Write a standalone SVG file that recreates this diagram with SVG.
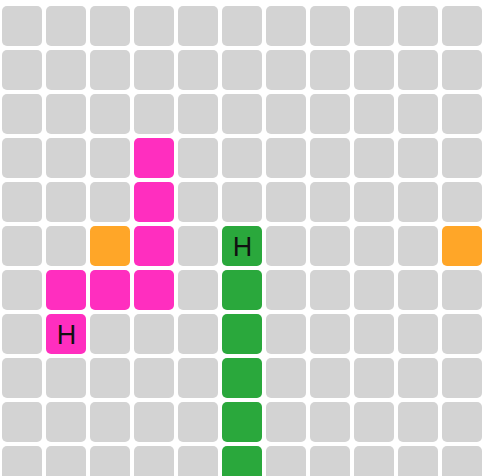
<svg xmlns="http://www.w3.org/2000/svg" width="482" height="476" viewBox="0 0 482 476">
<style>
.c{fill:#d3d3d3}
.p{fill:#ff2ebf}
.o{fill:#ffa628}
.g{fill:#2aa83c}
.t{font-family:"Liberation Sans",Arial,sans-serif;font-size:27px;fill:#111;text-anchor:middle;dominant-baseline:central}
</style>
<defs>
<rect id="cell" width="40" height="40" rx="5" ry="5"/>
</defs>
<rect width="482" height="476" fill="#fff"/>
<g id="grid">
<g transform="translate(2,6)">
<use href="#cell" class="c" x="0" y="0"/><use href="#cell" class="c" x="44" y="0"/><use href="#cell" class="c" x="88" y="0"/><use href="#cell" class="c" x="132" y="0"/><use href="#cell" class="c" x="176" y="0"/><use href="#cell" class="c" x="220" y="0"/><use href="#cell" class="c" x="264" y="0"/><use href="#cell" class="c" x="308" y="0"/><use href="#cell" class="c" x="352" y="0"/><use href="#cell" class="c" x="396" y="0"/><use href="#cell" class="c" x="440" y="0"/>
<use href="#cell" class="c" x="0" y="44"/><use href="#cell" class="c" x="44" y="44"/><use href="#cell" class="c" x="88" y="44"/><use href="#cell" class="c" x="132" y="44"/><use href="#cell" class="c" x="176" y="44"/><use href="#cell" class="c" x="220" y="44"/><use href="#cell" class="c" x="264" y="44"/><use href="#cell" class="c" x="308" y="44"/><use href="#cell" class="c" x="352" y="44"/><use href="#cell" class="c" x="396" y="44"/><use href="#cell" class="c" x="440" y="44"/>
<use href="#cell" class="c" x="0" y="88"/><use href="#cell" class="c" x="44" y="88"/><use href="#cell" class="c" x="88" y="88"/><use href="#cell" class="c" x="132" y="88"/><use href="#cell" class="c" x="176" y="88"/><use href="#cell" class="c" x="220" y="88"/><use href="#cell" class="c" x="264" y="88"/><use href="#cell" class="c" x="308" y="88"/><use href="#cell" class="c" x="352" y="88"/><use href="#cell" class="c" x="396" y="88"/><use href="#cell" class="c" x="440" y="88"/>
<use href="#cell" class="c" x="0" y="132"/><use href="#cell" class="c" x="44" y="132"/><use href="#cell" class="c" x="88" y="132"/><use href="#cell" class="p" x="132" y="132"/><use href="#cell" class="c" x="176" y="132"/><use href="#cell" class="c" x="220" y="132"/><use href="#cell" class="c" x="264" y="132"/><use href="#cell" class="c" x="308" y="132"/><use href="#cell" class="c" x="352" y="132"/><use href="#cell" class="c" x="396" y="132"/><use href="#cell" class="c" x="440" y="132"/>
<use href="#cell" class="c" x="0" y="176"/><use href="#cell" class="c" x="44" y="176"/><use href="#cell" class="c" x="88" y="176"/><use href="#cell" class="p" x="132" y="176"/><use href="#cell" class="c" x="176" y="176"/><use href="#cell" class="c" x="220" y="176"/><use href="#cell" class="c" x="264" y="176"/><use href="#cell" class="c" x="308" y="176"/><use href="#cell" class="c" x="352" y="176"/><use href="#cell" class="c" x="396" y="176"/><use href="#cell" class="c" x="440" y="176"/>
<use href="#cell" class="c" x="0" y="220"/><use href="#cell" class="c" x="44" y="220"/><use href="#cell" class="o" x="88" y="220"/><use href="#cell" class="p" x="132" y="220"/><use href="#cell" class="c" x="176" y="220"/><use href="#cell" class="g" x="220" y="220"/><use href="#cell" class="c" x="264" y="220"/><use href="#cell" class="c" x="308" y="220"/><use href="#cell" class="c" x="352" y="220"/><use href="#cell" class="c" x="396" y="220"/><use href="#cell" class="o" x="440" y="220"/>
<use href="#cell" class="c" x="0" y="264"/><use href="#cell" class="p" x="44" y="264"/><use href="#cell" class="p" x="88" y="264"/><use href="#cell" class="p" x="132" y="264"/><use href="#cell" class="c" x="176" y="264"/><use href="#cell" class="g" x="220" y="264"/><use href="#cell" class="c" x="264" y="264"/><use href="#cell" class="c" x="308" y="264"/><use href="#cell" class="c" x="352" y="264"/><use href="#cell" class="c" x="396" y="264"/><use href="#cell" class="c" x="440" y="264"/>
<use href="#cell" class="c" x="0" y="308"/><use href="#cell" class="p" x="44" y="308"/><use href="#cell" class="c" x="88" y="308"/><use href="#cell" class="c" x="132" y="308"/><use href="#cell" class="c" x="176" y="308"/><use href="#cell" class="g" x="220" y="308"/><use href="#cell" class="c" x="264" y="308"/><use href="#cell" class="c" x="308" y="308"/><use href="#cell" class="c" x="352" y="308"/><use href="#cell" class="c" x="396" y="308"/><use href="#cell" class="c" x="440" y="308"/>
<use href="#cell" class="c" x="0" y="352"/><use href="#cell" class="c" x="44" y="352"/><use href="#cell" class="c" x="88" y="352"/><use href="#cell" class="c" x="132" y="352"/><use href="#cell" class="c" x="176" y="352"/><use href="#cell" class="g" x="220" y="352"/><use href="#cell" class="c" x="264" y="352"/><use href="#cell" class="c" x="308" y="352"/><use href="#cell" class="c" x="352" y="352"/><use href="#cell" class="c" x="396" y="352"/><use href="#cell" class="c" x="440" y="352"/>
<use href="#cell" class="c" x="0" y="396"/><use href="#cell" class="c" x="44" y="396"/><use href="#cell" class="c" x="88" y="396"/><use href="#cell" class="c" x="132" y="396"/><use href="#cell" class="c" x="176" y="396"/><use href="#cell" class="g" x="220" y="396"/><use href="#cell" class="c" x="264" y="396"/><use href="#cell" class="c" x="308" y="396"/><use href="#cell" class="c" x="352" y="396"/><use href="#cell" class="c" x="396" y="396"/><use href="#cell" class="c" x="440" y="396"/>
<use href="#cell" class="c" x="0" y="440"/><use href="#cell" class="c" x="44" y="440"/><use href="#cell" class="c" x="88" y="440"/><use href="#cell" class="c" x="132" y="440"/><use href="#cell" class="c" x="176" y="440"/><use href="#cell" class="g" x="220" y="440"/><use href="#cell" class="c" x="264" y="440"/><use href="#cell" class="c" x="308" y="440"/><use href="#cell" class="c" x="352" y="440"/><use href="#cell" class="c" x="396" y="440"/><use href="#cell" class="c" x="440" y="440"/>
</g>
</g>
<g id="labels">
<text class="t" x="242.5" y="246.5">H</text>
<text class="t" x="66.5" y="334.5">H</text>
</g>
</svg>
